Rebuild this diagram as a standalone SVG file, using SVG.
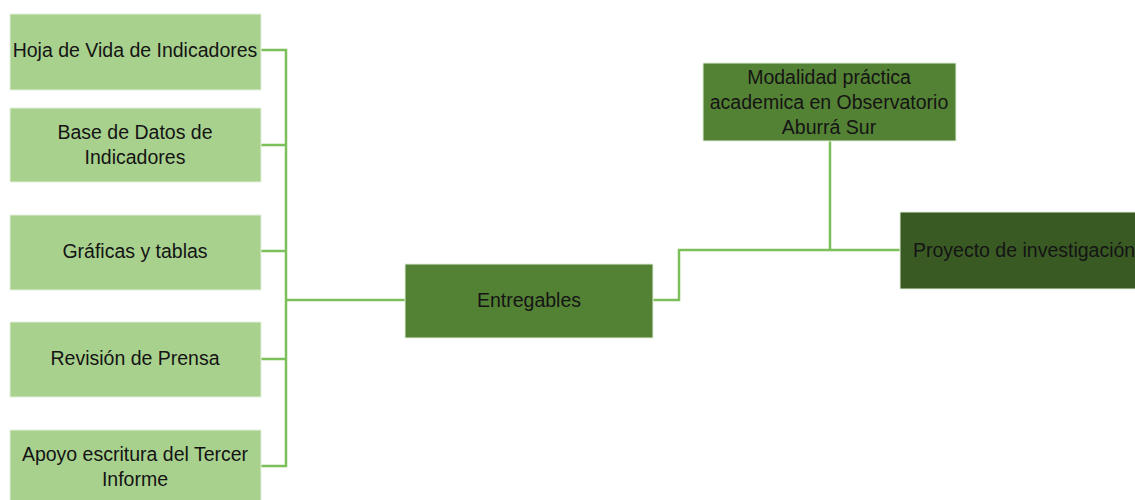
<svg xmlns="http://www.w3.org/2000/svg" width="1135" height="500" viewBox="0 0 1135 500">
<style>
.light{fill:#A9D18E;stroke:#E2EFD9;stroke-width:1}
.mid{fill:#548235;stroke:#E2EFD9;stroke-width:1}
.dark{fill:#3A5A24;stroke:#E2EFD9;stroke-width:1}
text{font-family:"Liberation Sans",Arial,sans-serif;font-size:19.5px;fill:#141414;text-anchor:middle;dominant-baseline:central}
.conn{fill:none;stroke:#7DBF5A;stroke-width:2.5}
</style>
<rect width="1135" height="500" fill="#ffffff"/>
<g id="connectors">
<path class="conn" d="M261 50H286V466H261M261 145H286M261 251H286M261 359H286M286 300H405"/>
<path class="conn" d="M653 300H679V250H903M830 141V250"/>
</g>
<g id="n-hoja"><rect class="light" x="10" y="14" width="251" height="76"/><text x="135" y="50">Hoja de Vida de Indicadores</text></g>
<g id="n-base"><rect class="light" x="10" y="108" width="251" height="74"/><text x="135" y="132">Base de Datos de</text><text x="135" y="157">Indicadores</text></g>
<g id="n-graficas"><rect class="light" x="10" y="215" width="251" height="75"/><text x="135" y="251">Gráficas y tablas</text></g>
<g id="n-revision"><rect class="light" x="10" y="322" width="251" height="75"/><text x="135" y="358">Revisión de Prensa</text></g>
<g id="n-apoyo"><rect class="light" x="10" y="430" width="251" height="75"/><text x="135" y="454">Apoyo escritura del Tercer</text><text x="135" y="479">Informe</text></g>
<g id="n-entregables"><rect class="mid" x="405" y="264" width="248" height="74"/><text x="529" y="300">Entregables</text></g>
<g id="n-modalidad"><rect class="mid" x="703" y="63" width="253" height="78"/><text x="829" y="77">Modalidad práctica</text><text x="829" y="102">academica en Observatorio</text><text x="829" y="127">Aburrá Sur</text></g>
<g id="n-proyecto"><rect class="dark" x="900" y="212" width="240" height="77"/><text x="913" y="250" style="text-anchor:start">Proyecto de investigación</text></g>
</svg>
